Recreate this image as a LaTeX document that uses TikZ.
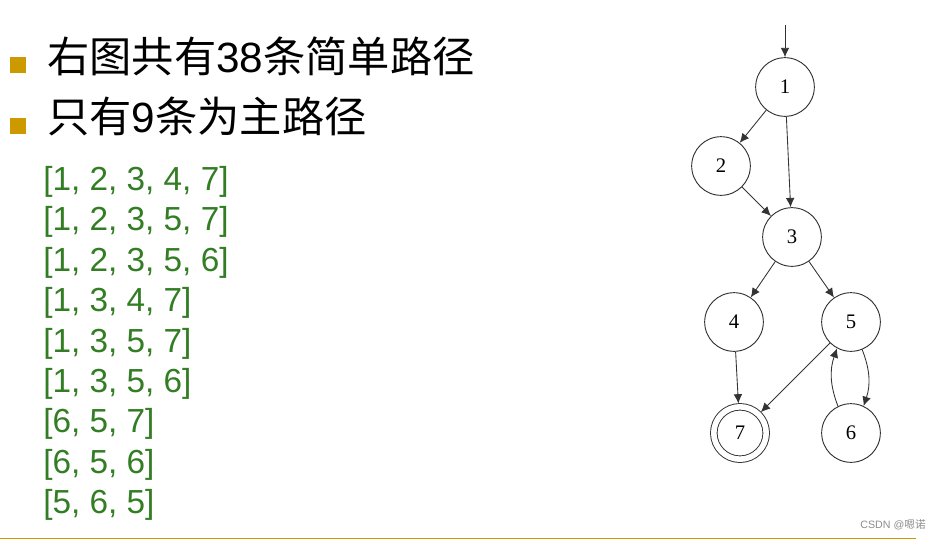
\documentclass[tikz,border=0pt]{standalone}
\usepackage{fontspec}
\setmainfont{Liberation Sans}
\newfontfamily\cjk{Noto Sans CJK SC}
\newfontfamily\labelfont{Liberation Serif}
\usetikzlibrary{arrows.meta}
\definecolor{bullet gold}{RGB}{204,153,0}
\definecolor{path green}{RGB}{51,125,36}
\colorlet{circle edge}{black!80}
\colorlet{mark gray}{black!45}
\tikzset{
  vertex/.style={draw=circle edge, circle, minimum size=44pt, inner sep=0pt,
    line width=0.7pt, font=\labelfont\fontsize{15.5}{15.5}\selectfont},
  finalvertex/.style={double, double distance=4.2pt, minimum size=39.3pt, outer sep=2.5pt},
  flow/.style={draw=circle edge, line width=0.65pt, -{Latex[length=7pt,width=6.5pt]}},
  bulletbox/.style={fill=bullet gold, minimum size=12pt, inner sep=0pt},
  heading/.style={anchor=base west, inner sep=0pt, font=\fontsize{31.7}{31.7}\selectfont},
  pathline/.style={anchor=base west, inner sep=0pt, text=path green,
    font=\fontsize{25}{25}\selectfont}
}

\begin{document}
\begin{tikzpicture}[x=0.75pt, y=-0.75pt]
    \useasboundingbox (0,0) rectangle (943,540);

    % bullets and headings
    \node[bulletbox] (b1) at (18,64.7) {};
    \node[bulletbox] (b2) at (18,126) {};
    \node[heading] (h1) at (47,72.5) {{\cjk 右图共有}38{\cjk 条简单路径}};
    \node[heading] (h2) at (47,132.5) {{\cjk 只有}9{\cjk 条为主路径}};

    % prime paths
    \node[pathline] (p1) at (43,190.5) {[1, 2, 3, 4, 7]};
    \node[pathline] (p2) at (43,230.9) {[1, 2, 3, 5, 7]};
    \node[pathline] (p3) at (43,271.3) {[1, 2, 3, 5, 6]};
    \node[pathline] (p4) at (43,311.7) {[1, 3, 4, 7]};
    \node[pathline] (p5) at (43,352.1) {[1, 3, 5, 7]};
    \node[pathline] (p6) at (43,392.5) {[1, 3, 5, 6]};
    \node[pathline] (p7) at (43,432.9) {[6, 5, 7]};
    \node[pathline] (p8) at (43,473.3) {[6, 5, 6]};
    \node[pathline] (p9) at (43,513.7) {[5, 6, 5]};

    % graph
    \coordinate (start) at (785,25);
    \node[vertex] (n1) at (785,87) {1};
    \node[vertex] (n2) at (721,166) {2};
    \node[vertex] (n3) at (792,237) {3};
    \node[vertex] (n4) at (734,322) {4};
    \node[vertex] (n5) at (851,322) {5};
    \node[vertex,finalvertex] (n7) at (740,433) {7};
    \node[vertex] (n6) at (851,433) {6};

    \draw[flow] (start) -- (n1);
    \draw[flow] (n1) -- (n2);
    \draw[flow] (n1) -- (n3);
    \draw[flow] (n2) -- (n3);
    \draw[flow] (n3) -- (n4);
    \draw[flow] (n3) -- (n5);
    \draw[flow] (n4) -- (n7);
    \draw[flow] (n5) -- (n7);
    \draw[flow] (n5.-68) to[bend left=20] (n6.65);
    \draw[flow] (n6.116) to[bend left=20] (n5.-118);

    % footer
    \draw[bullet gold, line width=1.1pt] (0,538.5) -- (916,538.5);
    \node[text=mark gray, font=\fontsize{8}{8}\selectfont] (mark) at (893,525)
        {CSDN @{\cjk 嗯诺}};
\end{tikzpicture}
\end{document}
